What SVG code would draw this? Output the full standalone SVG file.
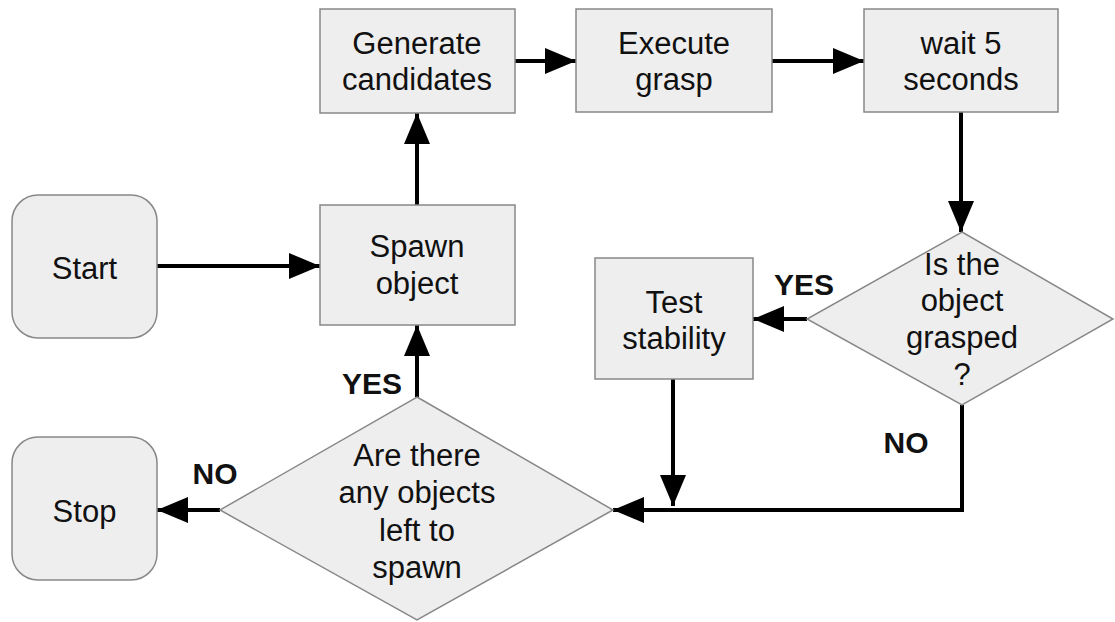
<svg xmlns="http://www.w3.org/2000/svg" width="1115" height="622" viewBox="0 0 1115 622">
<defs>
<style>
.n{fill:#eeeeee;stroke:#888888;stroke-width:1.5}
.t{font-family:"Liberation Sans",Arial,sans-serif;font-size:31px;fill:#111;text-anchor:middle}
.l{font-family:"Liberation Sans",Arial,sans-serif;font-size:30px;font-weight:bold;fill:#111;text-anchor:middle}
.c{fill:none;stroke:#000;stroke-width:4}
</style>
<marker id="a" markerUnits="userSpaceOnUse" markerWidth="32" markerHeight="26" viewBox="0 0 32 26" refX="31" refY="13" orient="auto">
<path d="M0,0 L31,13 L0,26 Z" fill="#000"/>
</marker>
</defs>
<rect width="1115" height="622" fill="#fff"/>
<g id="connectors">
<path class="c" d="M157,266 H320" marker-end="url(#a)"/>
<path class="c" d="M417,205 V113" marker-end="url(#a)"/>
<path class="c" d="M515,61 H576" marker-end="url(#a)"/>
<path class="c" d="M772,61 H864" marker-end="url(#a)"/>
<path class="c" d="M961,112 V232" marker-end="url(#a)"/>
<path class="c" d="M807,319 H753" marker-end="url(#a)"/>
<path class="c" d="M673,379 V506" marker-end="url(#a)"/>
<path class="c" d="M962,405 V510 H613" marker-end="url(#a)"/>
<path class="c" d="M417,397 V325" marker-end="url(#a)"/>
<path class="c" d="M220,510 H157" marker-end="url(#a)"/>
<text class="l" x="804" y="295">YES</text>
<text class="l" x="906" y="453">NO</text>
<text class="l" x="372" y="394">YES</text>
<text class="l" x="215" y="484">NO</text>
</g>
<g id="start">
<rect class="n" x="12" y="195" width="145" height="143" rx="26"/>
<text class="t" x="84.5" y="279">Start</text>
</g>
<g id="spawn">
<rect class="n" x="320" y="205" width="195" height="120"/>
<text class="t" x="417" y="257">Spawn</text>
<text class="t" x="417" y="294">object</text>
</g>
<g id="generate">
<rect class="n" x="320" y="9" width="195" height="104"/>
<text class="t" x="417" y="54">Generate</text>
<text class="t" x="417" y="90">candidates</text>
</g>
<g id="execute">
<rect class="n" x="576" y="9" width="196" height="103"/>
<text class="t" x="674" y="54">Execute</text>
<text class="t" x="674" y="90">grasp</text>
</g>
<g id="wait">
<rect class="n" x="864" y="9" width="194" height="103"/>
<text class="t" x="961" y="54">wait 5</text>
<text class="t" x="961" y="90">seconds</text>
</g>
<g id="grasped">
<polygon class="n" points="962,232 1113,319 962,405 807,319"/>
<text class="t" x="962" y="275">Is the</text>
<text class="t" x="962" y="311">object</text>
<text class="t" x="962" y="348">grasped</text>
<text class="t" x="962" y="385">?</text>
</g>
<g id="test">
<rect class="n" x="595" y="258" width="158" height="121"/>
<text class="t" x="674" y="313">Test</text>
<text class="t" x="674" y="349">stability</text>
</g>
<g id="left">
<polygon class="n" points="417,397 613,510 417,620 220,510"/>
<text class="t" x="417" y="466">Are there</text>
<text class="t" x="417" y="503">any objects</text>
<text class="t" x="417" y="541">left to</text>
<text class="t" x="417" y="578">spawn</text>
</g>
<g id="stop">
<rect class="n" x="12" y="437" width="145" height="143" rx="26"/>
<text class="t" x="84.5" y="522">Stop</text>
</g>
</svg>
